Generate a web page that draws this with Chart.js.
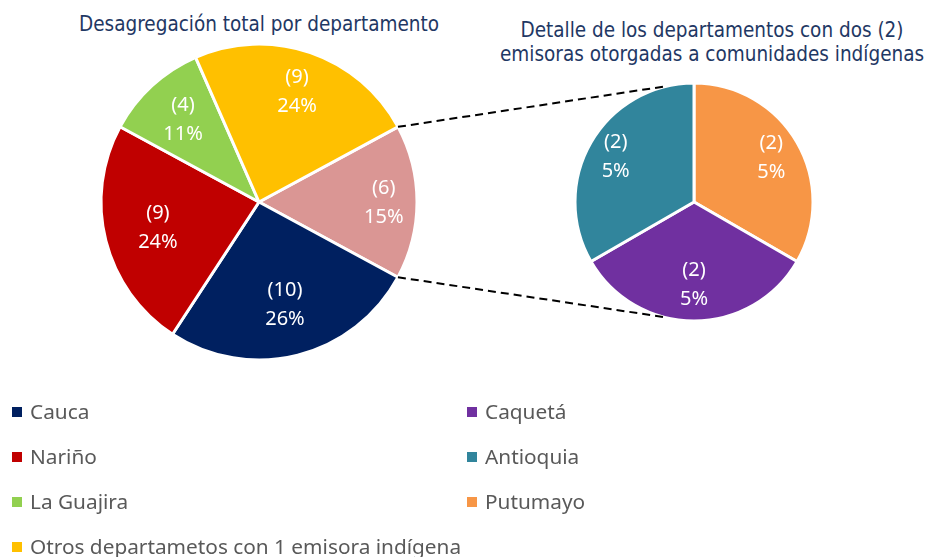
<!DOCTYPE html>
<html>
<head>
<meta charset="utf-8">
<script src="https://cdn.jsdelivr.net/npm/chart.js@4.4.1/dist/chart.umd.min.js"></script>
<style>
    html, body { margin: 0; padding: 0; background: #fff; }
    #wrap { position: relative; width: 930px; height: 557px; overflow: hidden; font-family: "Noto Sans", sans-serif; }
    .title { position: absolute; color: #1F3864; font-family: "DejaVu Sans Condensed", "DejaVu Sans", sans-serif; font-size: 20.5px; text-align: center; white-space: nowrap; line-height: 24px; }
    .box { position: absolute; }
    #lines { position: absolute; left: 0; top: 0; pointer-events: none; }
    .leg { position: absolute; font-size: 20.8px; color: #595959; white-space: nowrap; line-height: 24px; }
    .leg i { display: inline-block; width: 10px; height: 10px; margin-right: 8px; vertical-align: 2px; }
</style>
</head>
<body>
<div id="wrap">
    <div class="title" style="left:0; width:518px; top:12px;">Desagregación total por departamento</div>
    <div class="title" style="left:500px; width:424px; top:18px;">Detalle de los departamentos con dos (2)<br>emisoras otorgadas a comunidades indígenas</div>
    <div class="box" style="left:89px; top:32px; width:340px; height:340px;"><canvas id="mainPie"></canvas></div>
    <div class="box" style="left:564px; top:72px; width:260px; height:260px;"><canvas id="detailPie"></canvas></div>
    <canvas id="lines" width="930" height="557"></canvas>
    <div id="legend"></div>
</div>
<script>
// ========== DATA ==========
var mainLabels = ['Departamentos con 2 emisoras', 'Cauca', 'Nariño', 'La Guajira', 'Otros departametos con 1 emisora indígena'];
var mainValues = [6, 10, 9, 4, 9];
var mainPercents = [15, 26, 24, 11, 24];   // as printed on the chart
var mainColors = ['#DA9694', '#002060', '#C00000', '#92D050', '#FFC000'];

var detailLabels = ['Putumayo', 'Caquetá', 'Antioquia'];
var detailValues = [2, 2, 2];
var detailPercents = [5, 5, 5];
var detailColors = ['#F79646', '#7030A0', '#31859C'];

// legend order, two columns
var legendLeft = ['Cauca', 'Nariño', 'La Guajira', 'Otros departametos con 1 emisora indígena'];
var legendRight = ['Caquetá', 'Antioquia', 'Putumayo'];

// ========== LABEL PLUGIN ==========
// draws "(n)" and "pct%" inside each slice; labelRadius = fraction of the radius per slice
var sliceLabels = {
    id: 'sliceLabels',
    afterDatasetsDraw: function(chart) {
        var ctx = chart.ctx;
        var meta = chart.getDatasetMeta(0);
        var vals = chart.data.datasets[0].data;
        var opts = chart.options.plugins.sliceLabels;
        ctx.save();
        ctx.fillStyle = '#fff';
        ctx.font = '20px "Noto Sans", sans-serif';
        ctx.textAlign = 'center';
        ctx.textBaseline = 'middle';
        meta.data.forEach(function(arc, i) {
            var mid = (arc.startAngle + arc.endAngle) / 2;
            var r = arc.outerRadius * opts.labelRadius[i];
            var x = arc.x + Math.cos(mid) * r;
            var y = arc.y + Math.sin(mid) * r;
            ctx.fillText('(' + vals[i] + ')', x, y - 14);
            ctx.fillText(opts.percents[i] + '%', x, y + 15);
        });
        ctx.restore();
    }
};

function pieOptions(radius, rotation, fractions, percents) {
    return {
        responsive: true,
        maintainAspectRatio: false,
        animation: false,
        radius: radius,
        rotation: rotation,
        layout: { padding: 0 },
        plugins: {
            legend: { display: false },
            tooltip: { enabled: false },
            sliceLabels: { labelRadius: fractions, percents: percents }
        }
    };
}

var mainChart = new Chart(document.getElementById('mainPie').getContext('2d'), {
    type: 'pie',
    data: {
        labels: mainLabels,
        datasets: [{ data: mainValues, backgroundColor: mainColors, borderColor: '#fff', borderWidth: 3, hoverOffset: 0 }]
    },
    options: pieOptions(158, 61.6, [0.79, 0.67, 0.66, 0.71, 0.74], mainPercents),
    plugins: [sliceLabels]
});

var detailChart = new Chart(document.getElementById('detailPie').getContext('2d'), {
    type: 'pie',
    data: {
        labels: detailLabels,
        datasets: [{ data: detailValues, backgroundColor: detailColors, borderColor: '#fff', borderWidth: 3, hoverOffset: 0 }]
    },
    options: pieOptions(119, 0, [0.75, 0.69, 0.76], detailPercents),
    plugins: [sliceLabels]
});

// ========== CONNECTOR LINES ==========
function drawConnectors() {
    var c = document.getElementById('lines');
    var ctx = c.getContext('2d');
    var wrap = document.getElementById('wrap').getBoundingClientRect();
    var rl = mainChart.canvas.getBoundingClientRect();
    var rr = detailChart.canvas.getBoundingClientRect();
    var pink = mainChart.getDatasetMeta(0).data[0];
    var det = detailChart.getDatasetMeta(0).data[0];
    var lx = rl.left - wrap.left + pink.x, ly = rl.top - wrap.top + pink.y;
    var rx = rr.left - wrap.left + det.x, ry = rr.top - wrap.top + det.y;
    var R = pink.outerRadius, r2 = det.outerRadius;
    var a1 = pink.startAngle, a2 = pink.endAngle;
    var b1 = -103 * Math.PI / 180, b2 = 105 * Math.PI / 180;
    ctx.clearRect(0, 0, c.width, c.height);
    ctx.save();
    ctx.strokeStyle = '#000';
    ctx.lineWidth = 2;
    ctx.setLineDash([8, 5]);
    ctx.beginPath();
    ctx.moveTo(lx + Math.cos(a1) * R, ly + Math.sin(a1) * R);
    ctx.lineTo(rx + Math.cos(b1) * r2, ry + Math.sin(b1) * r2);
    ctx.moveTo(lx + Math.cos(a2) * R, ly + Math.sin(a2) * R);
    ctx.lineTo(rx + Math.cos(b2) * r2, ry + Math.sin(b2) * r2);
    ctx.stroke();
    ctx.restore();
}
drawConnectors();

// ========== LEGEND ==========
function buildLegend() {
    var host = document.getElementById('legend');
    var html = '';
    function colorOf(name) {
        var i = mainLabels.indexOf(name);
        if (i >= 0) return mainColors[i];
        return detailColors[detailLabels.indexOf(name)];
    }
    legendLeft.forEach(function(name, i) {
        html += '<div class="leg" style="left:12px; top:' + (399 + i * 45) + 'px;"><i style="background:' + colorOf(name) + '"></i>' + name + '</div>';
    });
    legendRight.forEach(function(name, i) {
        html += '<div class="leg" style="left:467px; top:' + (399 + i * 45) + 'px;"><i style="background:' + colorOf(name) + '"></i>' + name + '</div>';
    });
    host.innerHTML = html;
}
buildLegend();
</script>
</body>
</html>
